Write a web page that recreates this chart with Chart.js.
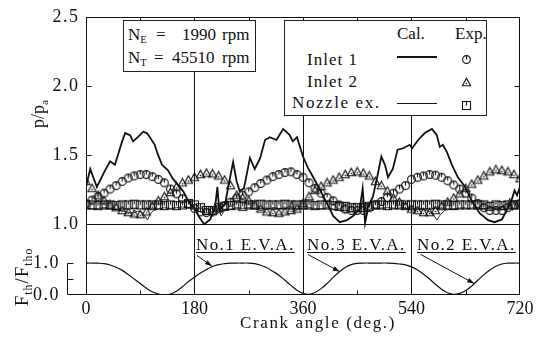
<!DOCTYPE html>
<html>
<head>
<meta charset="utf-8">
<title>Pressure ratio vs crank angle</title>
<script src="https://cdn.jsdelivr.net/npm/chart.js@4.4.1/dist/chart.umd.min.js"></script>
<style>
  html, body { margin: 0; padding: 0; background: #fff; }
  #wrap {
    position: relative; width: 540px; height: 338px; overflow: hidden;
    font-family: "Liberation Serif", "DejaVu Serif", serif; color: #111;
  }
  #chart { position: absolute; left: 0; top: 0; }
  .box { position: absolute; border: 1.4px solid #222; background: #fff; box-sizing: border-box; }
  .t { position: absolute; white-space: nowrap; line-height: 20px; transform: translateY(-50%); }
  .t sub { font-size: 62%; vertical-align: -3px; line-height: 0; }
  .eva { font-size: 17px; letter-spacing: 1.4px; text-decoration: underline; text-underline-offset: 2px; }
  .rot { position: absolute; white-space: nowrap; transform: translate(-50%, -50%) rotate(-90deg); line-height: 20px; }
  .rot sub { font-size: 62%; vertical-align: -4px; line-height: 0; }
  .mark { position: absolute; }
  .sample { position: absolute; height: 0; border-top: 2px solid #111; }
</style>
</head>
<body>
<div id="wrap">
  <canvas id="chart" width="540" height="338"></canvas>

  <!-- engine / turbo speed box -->
  <div class="box" style="left:123px; top:20px; width:133px; height:52px;"></div>
  <div class="t" style="left:128px; top:35px; font-size:17px;">N<sub>E</sub></div>
  <div class="t" style="left:156px; top:35px; font-size:17px;">=</div>
  <div class="t" style="left:182px; top:35px; font-size:17px;">1990</div>
  <div class="t" style="left:222px; top:35px; font-size:17px;">rpm</div>
  <div class="t" style="left:128px; top:58px; font-size:17px;">N<sub>T</sub></div>
  <div class="t" style="left:154px; top:58px; font-size:17px;">=</div>
  <div class="t" style="left:172px; top:58px; font-size:17px;">45510</div>
  <div class="t" style="left:222px; top:58px; font-size:17px;">rpm</div>

  <!-- legend box -->
  <div class="box" style="left:284px; top:20px; width:203px; height:96px;"></div>
  <div class="t" style="left:397px; top:34px; font-size:17px;">Cal.</div>
  <div class="t" style="left:455px; top:34px; font-size:17px;">Exp.</div>
  <div class="t" style="left:307px; top:60px; font-size:17px; letter-spacing:1px;">Inlet 1</div>
  <div class="t" style="left:307px; top:82px; font-size:17px; letter-spacing:1px;">Inlet 2</div>
  <div class="t" style="left:292px; top:103px; font-size:17px; letter-spacing:1.6px;">Nozzle ex.</div>
  <div class="sample" style="left:397px; top:56px; width:40px;"></div>
  <div class="sample" style="left:397px; top:103px; width:40px; border-top-width:1px;"></div>
  <div class="mark" id="legCircle" style="left:461px; top:51px;"></div>
  <div class="mark" id="legTriangle" style="left:461px; top:74px;"></div>
  <div class="mark" id="legSquare" style="left:461px; top:97px;"></div>

  <!-- exhaust valve labels -->
  <div class="t eva" style="left:196px; top:245px;">No.1 E.V.A.</div>
  <div class="t eva" style="left:307px; top:245px;">No.3 E.V.A.</div>
  <div class="t eva" style="left:417px; top:245px;">No.2 E.V.A.</div>

  <!-- axis titles -->
  <div class="rot" style="left:38px; top:114px; font-size:18px;">p/p<sub>a</sub></div>
  <div class="rot" style="left:22px; top:277px; font-size:19px; letter-spacing:1px;">F<sub>th</sub>/F<sub>tho</sub></div>
  <div class="t" style="left:318px; top:323px; font-size:17px; letter-spacing:1.6px; transform:translate(-50%,-50%);">Crank angle (deg.)</div>
</div>

<script>
/* ── Chart data ─────────────────────────────────────────────── */
/* Crank angles of the measured points, every 10 deg */
const stepAngles = [
  0, 10, 20, 30, 40, 50, 60, 70, 80, 90,
  100, 110, 120, 130, 140, 150, 160, 170, 180, 190,
  200, 210, 220, 230, 240, 250, 260, 270, 280, 290,
  300, 310, 320, 330, 340, 350, 360, 370, 380, 390,
  400, 410, 420, 430, 440, 450, 460, 470, 480, 490,
  500, 510, 520, 530, 540, 550, 560, 570, 580, 590,
  600, 610, 620, 630, 640, 650, 660, 670, 680, 690,
  700, 710, 720
];

/* Measured p/pa, Inlet 1 (circles) */
const expInlet1 = [
  1.15, 1.175, 1.20, 1.225, 1.255, 1.28, 1.31, 1.335, 1.35, 1.36,
  1.36, 1.345, 1.325, 1.30, 1.255, 1.22, 1.185, 1.145, 1.115, 1.09,
  1.085, 1.09, 1.11, 1.135, 1.16, 1.19, 1.21, 1.235, 1.265, 1.295,
  1.32, 1.345, 1.36, 1.375, 1.38, 1.36, 1.34, 1.30, 1.26, 1.225,
  1.195, 1.17, 1.14, 1.11, 1.10, 1.10, 1.10, 1.12, 1.14, 1.165,
  1.195, 1.225, 1.255, 1.28, 1.325, 1.34, 1.35, 1.36, 1.355, 1.34,
  1.315, 1.285, 1.255, 1.225, 1.19, 1.15, 1.12, 1.10, 1.10, 1.10,
  1.12, 1.14, 1.15
];

/* Measured p/pa, Inlet 2 (triangles) */
const expInlet2 = [
  1.31, 1.26, 1.21, 1.17, 1.14, 1.12, 1.10, 1.085, 1.075, 1.07,
  1.09, 1.13, 1.17, 1.20, 1.23, 1.27, 1.30, 1.32, 1.34, 1.36,
  1.37, 1.365, 1.35, 1.32, 1.28, 1.21, 1.19, 1.17, 1.14, 1.11,
  1.09, 1.085, 1.08, 1.09, 1.10, 1.11, 1.15, 1.20, 1.245, 1.275,
  1.30, 1.32, 1.34, 1.36, 1.375, 1.38, 1.37, 1.35, 1.31, 1.28,
  1.24, 1.19, 1.16, 1.13, 1.11, 1.10, 1.085, 1.085, 1.10, 1.13,
  1.16, 1.19, 1.22, 1.26, 1.29, 1.32, 1.35, 1.38, 1.395, 1.39,
  1.38, 1.36, 1.33
];

/* Measured p/pa, nozzle exit (squares) */
const expNozzle = [
  1.14, 1.14, 1.135, 1.14, 1.14, 1.135, 1.14, 1.14, 1.145, 1.14,
  1.14, 1.14, 1.14, 1.135, 1.14, 1.135, 1.14, 1.15, 1.14, 1.12,
  1.10, 1.10, 1.12, 1.13, 1.135, 1.14, 1.13, 1.14, 1.14, 1.145,
  1.14, 1.14, 1.14, 1.145, 1.14, 1.14, 1.14, 1.14, 1.135, 1.14,
  1.14, 1.135, 1.13, 1.13, 1.12, 1.12, 1.12, 1.13, 1.14, 1.14,
  1.135, 1.14, 1.14, 1.14, 1.14, 1.14, 1.14, 1.14, 1.145, 1.14,
  1.14, 1.135, 1.14, 1.14, 1.14, 1.14, 1.14, 1.13, 1.14, 1.135,
  1.14, 1.14, 1.14
];

/* Calculated p/pa, Inlet 1 (thick line) */
const calInlet1Angles = [
  0, 7, 18, 31, 40, 48, 60, 65, 73, 78, 86, 95, 101, 106, 114, 118, 126, 136, 144, 161,
  172, 180, 188, 196, 206, 214, 218, 221, 231, 236, 244, 250, 255, 262, 272, 280, 289, 297, 305, 316,
  327, 338, 343, 350, 360, 368, 377, 388, 400, 410, 421, 433, 443, 454, 459, 463, 468, 476, 484, 490,
  496, 501, 509, 517, 526, 537, 541, 551, 562, 574, 582, 587, 592, 599, 607, 617, 629, 640, 653, 667,
  678, 690, 698, 706, 711, 715, 720
];
const calInlet1 = [
  1.27, 1.40, 1.27, 1.385, 1.455, 1.43, 1.60, 1.66, 1.645, 1.60, 1.63, 1.67, 1.66, 1.63, 1.575, 1.52, 1.43, 1.39, 1.33, 1.24,
  1.15, 1.12, 1.05, 1.00, 1.035, 1.12, 1.27, 1.10, 1.15, 1.27, 1.45, 1.31, 1.24, 1.26, 1.48, 1.40, 1.48, 1.61, 1.63, 1.61,
  1.69, 1.645, 1.60, 1.63, 1.49, 1.41, 1.34, 1.25, 1.15, 1.06, 1.015, 1.03, 1.06, 1.11, 1.26, 1.01, 1.13, 1.20, 1.36, 1.49,
  1.43, 1.34, 1.40, 1.54, 1.55, 1.575, 1.55, 1.61, 1.66, 1.69, 1.645, 1.56, 1.575, 1.52, 1.43, 1.34, 1.27, 1.17, 1.08, 1.03,
  1.015, 1.035, 1.10, 1.175, 1.245, 1.21, 1.27
];

/* Calculated p/pa, nozzle exit (thin line) */
const calNozzleAngles = [
  0, 10, 20, 30, 40, 50, 60, 70, 78, 85, 92, 98, 102, 106, 112, 120, 130, 140, 150, 160,
  170, 180, 190, 200, 210, 216, 220, 224, 230, 240, 250, 260, 270, 280, 290, 300, 310, 320, 330, 338,
  342, 346, 352, 360, 370, 380, 390, 400, 410, 420, 430, 440, 450, 456, 460, 463, 468, 475, 485, 495,
  505, 515, 525, 535, 545, 555, 565, 575, 582, 588, 595, 605, 615, 625, 635, 645, 655, 665, 675, 685,
  692, 697, 703, 708, 714, 720
];
const calNozzle = [
  1.12, 1.11, 1.115, 1.12, 1.11, 1.105, 1.10, 1.085, 1.08, 1.095, 1.09, 1.06, 1.03, 1.07, 1.10, 1.11, 1.12, 1.115, 1.12, 1.125,
  1.12, 1.11, 1.09, 1.08, 1.09, 1.07, 1.14, 1.06, 1.10, 1.11, 1.12, 1.115, 1.12, 1.11, 1.10, 1.11, 1.12, 1.115, 1.11, 1.13,
  1.17, 1.09, 1.12, 1.11, 1.12, 1.115, 1.11, 1.12, 1.11, 1.10, 1.085, 1.09, 1.10, 1.12, 1.18, 1.01, 1.10, 1.12, 1.115, 1.12,
  1.12, 1.115, 1.12, 1.11, 1.10, 1.11, 1.10, 1.08, 1.03, 1.07, 1.10, 1.11, 1.115, 1.12, 1.115, 1.12, 1.11, 1.115, 1.12, 1.10,
  1.14, 1.08, 1.19, 1.10, 1.16, 1.12
];

/* Exhaust valve area ratio Fth/Ftho (lower panel) */
const areaRatio = [
  1.0, 1.0, 0.995, 0.98, 0.94, 0.87, 0.77, 0.64, 0.50, 0.36,
  0.22, 0.10, 0.03, 0.0, 0.03, 0.12, 0.26, 0.42, 0.56, 0.69,
  0.80, 0.89, 0.95, 0.98, 0.995, 1.0, 1.0, 1.0, 0.98, 0.93,
  0.85, 0.74, 0.62, 0.46, 0.30, 0.15, 0.05, 0.02, 0.08, 0.20,
  0.36, 0.55, 0.72, 0.86, 0.95, 0.99, 1.0, 1.0, 1.0, 1.0,
  1.0, 0.99, 0.97, 0.94, 0.88, 0.78, 0.65, 0.50, 0.33, 0.18,
  0.07, 0.02, 0.05, 0.14, 0.28, 0.46, 0.63, 0.78, 0.90, 0.97,
  0.995, 1.0, 1.0
];

/* Tick values */
const xTicks = [0, 180, 360, 540, 720];
const xGridLines = [180, 360, 540];
const xMinorTicks = [90, 270, 450, 630];
const pTicks = [1.0, 1.5, 2.0, 2.5];
const fTicks = [0.0, 0.5, 1.0];
const fLabelled = [0.0, 1.0];

/* E.V.A. arrows: from label (angle, F) to the curve (angle, F) */
const arrowFromAngle = [184, 368, 555];
const arrowFromF = [1.24, 1.27, 1.27];
const arrowToAngle = [209, 421, 644];
const arrowToF = [0.90, 0.73, 0.36];

/* ── Helpers ────────────────────────────────────────────────── */
const INK = "#111";
const BRACKET_OFFSET = 19;   /* lower-panel axis sits this far left of the frame */

/* Pair an angle list with a value list as {x, y} points */
function toPoints(angles, values) {
  return angles.map((a, i) => ({ x: a, y: values[i] }));
}

/* Tick text "1.0" spaced out like the typeset original */
function spaced(v) {
  return v.toFixed(1).split("").join("\u200A");
}

/* Small hollow marker images: circle / triangle / square with a tick */
function makeMarker(kind) {
  const c = document.createElement("canvas");
  c.width = 11; c.height = 11;
  const g = c.getContext("2d");
  g.strokeStyle = INK;
  g.fillStyle = INK;
  g.lineWidth = 1.1;
  if (kind === "circle") {
    g.beginPath(); g.arc(5.5, 5.5, 3.9, 0, Math.PI * 2); g.stroke();
    g.beginPath(); g.moveTo(5.5, 1.6); g.lineTo(5.5, 5.5); g.stroke();
  } else if (kind === "triangle") {
    g.beginPath(); g.moveTo(5.5, 1.2); g.lineTo(9.6, 8.8); g.lineTo(1.4, 8.8); g.closePath(); g.stroke();
    g.fillRect(4.8, 5.8, 1.4, 1.4);
  } else {
    g.strokeRect(1.5, 1.5, 8, 8);
    g.beginPath(); g.moveTo(5.5, 1.5); g.lineTo(5.5, 5.5); g.stroke();
  }
  return c;
}

const markCircle = makeMarker("circle");
const markTriangle = makeMarker("triangle");
const markSquare = makeMarker("square");

/* Same symbols in the legend box */
document.getElementById("legCircle").appendChild(makeMarker("circle"));
document.getElementById("legTriangle").appendChild(makeMarker("triangle"));
document.getElementById("legSquare").appendChild(makeMarker("square"));

function drawArrow(ctx, x0, y0, x1, y1) {
  ctx.beginPath(); ctx.moveTo(x0, y0); ctx.lineTo(x1, y1); ctx.stroke();
  const ang = Math.atan2(y1 - y0, x1 - x0), len = 7, w = 2.4;
  const bx = x1 - len * Math.cos(ang), by = y1 - len * Math.sin(ang);
  ctx.beginPath();
  ctx.moveTo(x1, y1);
  ctx.lineTo(bx + w * Math.sin(ang), by - w * Math.cos(ang));
  ctx.lineTo(bx - w * Math.sin(ang), by + w * Math.cos(ang));
  ctx.closePath(); ctx.fill();
}

/* ── Frame, inward ticks, lower-axis bracket, arrows ────────── */
const decorations = {
  id: "decorations",
  afterDatasetsDraw(chart) {
    const { ctx, chartArea: a, scales } = chart;
    const sx = scales.x, sy = scales.y, sf = scales.yF;
    const L = Math.round(a.left) + 0.5, R = Math.round(a.right) - 0.5;
    const T = Math.round(a.top) + 0.5, B = Math.round(a.bottom) - 0.5;
    ctx.save();
    ctx.strokeStyle = INK;
    ctx.fillStyle = INK;
    ctx.lineWidth = 1;

    /* plot frame */
    ctx.strokeRect(L, T, R - L, B - T);

    /* inward ticks on left/right borders of the upper panel */
    ctx.beginPath();
    pTicks.forEach(v => {
      const py = Math.round(sy.getPixelForValue(v)) + 0.5;
      ctx.moveTo(L, py); ctx.lineTo(L + 5, py);
      ctx.moveTo(R, py); ctx.lineTo(R - 5, py);
    });
    /* inward ticks on top/bottom borders */
    xMinorTicks.forEach(v => {
      const px = Math.round(sx.getPixelForValue(v)) + 0.5;
      ctx.moveTo(px, T); ctx.lineTo(px, T + 4);
      ctx.moveTo(px, B); ctx.lineTo(px, B - 4);
    });
    ctx.stroke();

    /* bracket-style axis for the lower panel */
    const bx = L - BRACKET_OFFSET;
    const fTop = Math.round(sf.getPixelForValue(fTicks[fTicks.length - 1])) + 0.5;
    ctx.beginPath();
    ctx.moveTo(bx, fTop); ctx.lineTo(bx, B); ctx.lineTo(L, B);
    fTicks.slice(1).forEach(v => {
      const py = Math.round(sf.getPixelForValue(v)) + 0.5;
      ctx.moveTo(bx, py); ctx.lineTo(bx + 6, py);
    });
    ctx.stroke();

    /* E.V.A. arrows */
    arrowFromAngle.forEach((a0, i) => {
      drawArrow(ctx,
        sx.getPixelForValue(a0), sf.getPixelForValue(arrowFromF[i]),
        sx.getPixelForValue(arrowToAngle[i]), sf.getPixelForValue(arrowToF[i]));
    });
    ctx.restore();
  }
};

/* ── Chart ──────────────────────────────────────────────────── */
const tickFont = { family: "'Liberation Serif', serif", size: 18, lineHeight: 1 };

new Chart(document.getElementById("chart"), {
  type: "scatter",
  data: {
    datasets: [
      {
        label: "Inlet 1 Exp.",
        data: toPoints(stepAngles, expInlet1),
        pointStyle: markCircle,
        showLine: false,
        yAxisID: "y",
      },
      {
        label: "Inlet 2 Exp.",
        data: toPoints(stepAngles, expInlet2),
        pointStyle: markTriangle,
        showLine: false,
        yAxisID: "y",
      },
      {
        label: "Nozzle ex. Exp.",
        data: toPoints(stepAngles, expNozzle),
        pointStyle: markSquare,
        showLine: false,
        yAxisID: "y",
      },
      {
        label: "Inlet 1 Cal.",
        data: toPoints(calInlet1Angles, calInlet1),
        showLine: true,
        borderColor: INK,
        borderWidth: 1.8,
        pointRadius: 0,
        yAxisID: "y",
      },
      {
        label: "Nozzle ex. Cal.",
        data: toPoints(calNozzleAngles, calNozzle),
        showLine: true,
        borderColor: "#333",
        borderWidth: 1,
        pointRadius: 0,
        yAxisID: "y",
      },
      {
        label: "Fth/Ftho",
        data: toPoints(stepAngles, areaRatio),
        showLine: true,
        borderColor: INK,
        borderWidth: 1.2,
        pointRadius: 0,
        tension: 0.4,
        yAxisID: "yF",
      },
    ],
  },
  options: {
    responsive: false,
    animation: false,
    layout: { padding: { top: 8, right: 20, left: 0, bottom: 0 } },
    plugins: { legend: { display: false }, tooltip: { enabled: false } },
    scales: {
      x: {
        type: "linear",
        min: 0, max: 720,
        afterBuildTicks: s => { s.ticks = xTicks.map(v => ({ value: v })); },
        afterFit: s => { s.height = 43; },
        ticks: { color: INK, font: tickFont, padding: 5, maxRotation: 0 },
        grid: {
          drawTicks: false,
          color: c => xGridLines.includes(c.tick && c.tick.value) ? INK : "transparent",
        },
        border: { display: false },
      },
      /* upper panel p/pa: inner left axis, labels right-aligned */
      y: {
        position: "left",
        weight: 0,
        min: 0.488, max: 2.5,
        afterBuildTicks: s => { s.ticks = pTicks.map(v => ({ value: v })); },
        afterFit: s => { s.width = 56; },
        ticks: { color: INK, font: tickFont, padding: 8, callback: v => spaced(v) },
        grid: {
          drawTicks: false,
          color: c => (c.tick && c.tick.value === 1.0) ? INK : "transparent",
        },
        border: { display: false },
      },
      /* lower panel Fth/Ftho: outer left axis, mirrored so labels sit right of it */
      yF: {
        position: "left",
        weight: 1,
        min: 0, max: 8.697,
        afterBuildTicks: s => { s.ticks = fTicks.map(v => ({ value: v })); },
        afterFit: s => { s.width = 30; },
        ticks: {
          color: INK, font: tickFont, padding: 3, mirror: true,
          callback: v => (fLabelled.includes(v) ? spaced(v) : ""),
        },
        grid: { display: false, drawTicks: false },
        border: { display: false },
      },
    },
  },
  plugins: [decorations],
});
</script>
</body>
</html>
